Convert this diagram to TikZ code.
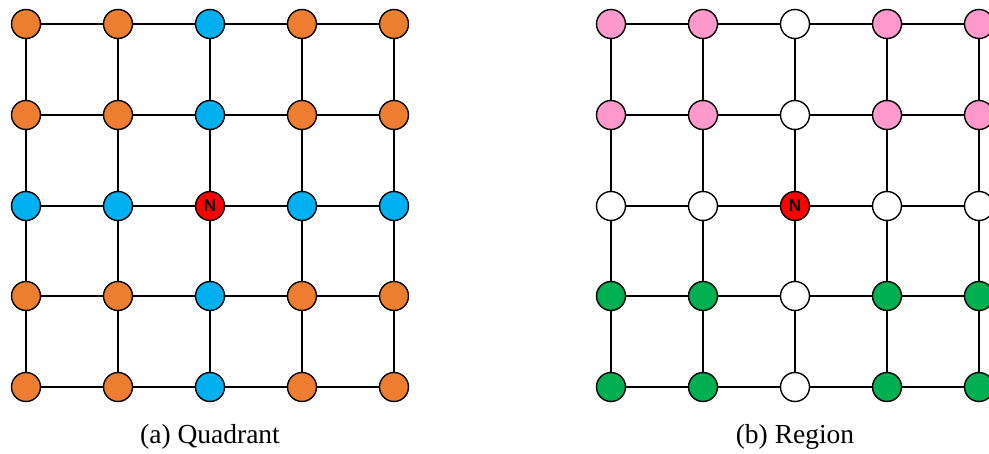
\documentclass[tikz,border=0pt]{standalone}
\usepackage{fontspec}
\setmainfont{Liberation Serif}
\newfontfamily\labelsans{Liberation Sans}
\definecolor{quadorange}{HTML}{ED7D31}
\definecolor{quadblue}{HTML}{00B0F0}
\definecolor{regpink}{HTML}{FF99CC}
\definecolor{reggreen}{HTML}{00B050}
\definecolor{nodered}{HTML}{FF0000}
\tikzset{
  gnode/.style={circle, draw=black, line width=1.4pt, minimum size=29pt, inner sep=0pt},
  orangenode/.style={gnode, fill=quadorange},
  bluenode/.style={gnode, fill=quadblue},
  pinknode/.style={gnode, fill=regpink},
  greennode/.style={gnode, fill=reggreen},
  whitenode/.style={gnode, fill=white},
  centernode/.style={gnode, fill=nodered, font=\labelsans\bfseries\fontsize{17}{17}\selectfont},
  link/.style={line width=1.4pt, black},
  caption/.style={font=\fontsize{27.5}{27.5}\selectfont}
}
\begin{document}
\begin{tikzpicture}[x=1pt, y=-1pt]
  \useasboundingbox (0,0) rectangle (989,454);
  % ---- (a) Quadrant: centre row and column blue, the rest orange ----
  \foreach \c/\x in {1/26,2/118,3/210,4/302,5/394}{
    \foreach \r/\y in {1/24,2/115,3/206,4/296,5/387}{
      \pgfmathtruncatemacro\onaxis{(\c==3 || \r==3) ? 1 : 0}
      \ifnum\c=3 \ifnum\r=3
        \node[centernode] (a-\c-\r) at (\x,\y) {N};
      \else
        \node[bluenode] (a-\c-\r) at (\x,\y) {};
      \fi\else
        \ifnum\onaxis=1
          \node[bluenode] (a-\c-\r) at (\x,\y) {};
        \else
          \node[orangenode] (a-\c-\r) at (\x,\y) {};
        \fi
      \fi
    }
  }
  % ---- (b) Region: upper rows pink, lower rows green, axes white ----
  \foreach \c/\x in {1/611,2/703,3/795,4/887,5/979}{
    \foreach \r/\y in {1/24,2/115,3/206,4/296,5/387}{
      \ifnum\c=3 \ifnum\r=3
        \node[centernode] (b-\c-\r) at (\x,\y) {N};
      \else
        \node[whitenode] (b-\c-\r) at (\x,\y) {};
      \fi\else
        \ifnum\r=3
          \node[whitenode] (b-\c-\r) at (\x,\y) {};
        \else\ifnum\r<3
          \node[pinknode] (b-\c-\r) at (\x,\y) {};
        \else
          \node[greennode] (b-\c-\r) at (\x,\y) {};
        \fi\fi
      \fi
    }
  }
  % grid links between neighbouring nodes
  \foreach \g in {a,b}{
    \foreach \i in {1,...,5}{
      \foreach \j [count=\k from 2] in {1,...,4}{
        \draw[link] (\g-\i-\j) -- (\g-\i-\k);
        \draw[link] (\g-\j-\i) -- (\g-\k-\i);
      }
    }
  }
  % captions
  \node[caption] (capa) at (210,437) {(a) Quadrant};
  \node[caption] (capb) at (795,437) {(b) Region};
\end{tikzpicture}
\end{document}
